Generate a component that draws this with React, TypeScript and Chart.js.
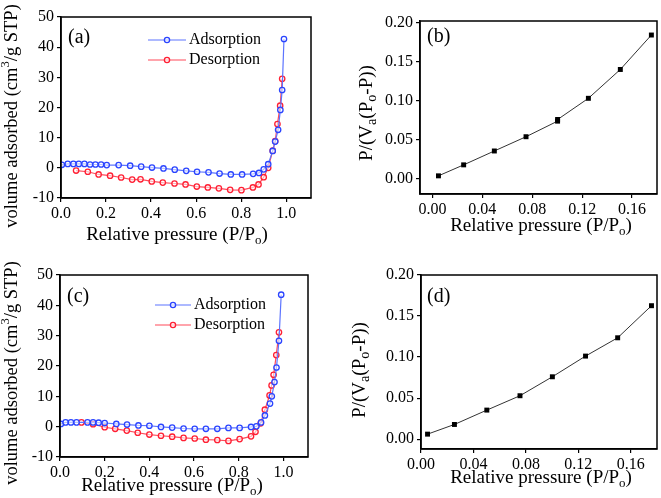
import React, { useEffect, useRef } from 'react';
import { Chart, registerables } from 'chart.js';
Chart.register(...registerables);

const FONT = '"Liberation Serif", "Times New Roman", serif';

// ---- Panel (a) isotherm ----
const aAdsX = [0.004, 0.03, 0.055, 0.079, 0.104, 0.129, 0.153, 0.178, 0.203, 0.256, 0.307, 0.356, 0.404, 0.455, 0.505, 0.556, 0.604, 0.655, 0.704, 0.754, 0.804, 0.853, 0.879, 0.9, 0.92, 0.94, 0.951, 0.964, 0.974, 0.982, 0.99];
const aAdsY = [1.0, 1.3, 1.3, 1.3, 1.3, 1.1, 1.1, 1.1, 0.9, 0.9, 0.7, 0.4, 0.1, -0.2, -0.6, -1.0, -1.3, -1.5, -1.9, -2.2, -2.2, -2.0, -1.7, -0.5, 1.2, 5.6, 8.7, 12.6, 19.2, 25.8, 42.7];
const aDesX = [0.067, 0.119, 0.167, 0.218, 0.267, 0.316, 0.353, 0.403, 0.452, 0.504, 0.553, 0.603, 0.652, 0.701, 0.751, 0.801, 0.852, 0.877, 0.9, 0.92, 0.94, 0.951, 0.961, 0.973, 0.982];
const aDesY = [-0.9, -1.3, -2.2, -2.6, -3.2, -3.9, -3.8, -4.5, -4.9, -5.2, -5.5, -6.2, -6.5, -6.8, -7.3, -7.4, -6.5, -5.5, -3.1, 0.0, 5.7, 8.9, 14.5, 20.6, 29.5];

// ---- Panel (c) isotherm ----
const cAdsX = [0.004, 0.025, 0.049, 0.074, 0.123, 0.148, 0.173, 0.2, 0.252, 0.3, 0.351, 0.4, 0.452, 0.502, 0.553, 0.603, 0.653, 0.704, 0.754, 0.804, 0.855, 0.879, 0.9, 0.917, 0.94, 0.948, 0.96, 0.969, 0.98, 0.99];
const cAdsY = [0.9, 1.4, 1.4, 1.4, 1.4, 1.4, 1.3, 1.2, 0.9, 0.7, 0.4, 0.3, -0.1, -0.3, -0.6, -0.7, -0.7, -0.7, -0.4, -0.4, -0.1, 0.1, 1.4, 3.7, 7.6, 10.0, 14.7, 19.5, 28.3, 43.5];
const cDesX = [0.096, 0.148, 0.2, 0.247, 0.299, 0.348, 0.4, 0.452, 0.502, 0.553, 0.603, 0.653, 0.704, 0.754, 0.804, 0.855, 0.875, 0.898, 0.917, 0.938, 0.947, 0.956, 0.968, 0.98];
const cDesY = [1.4, 0.8, -0.2, -0.7, -1.3, -2.0, -2.6, -3.0, -3.3, -3.7, -3.9, -4.3, -4.4, -4.7, -4.1, -3.2, -1.7, 1.1, 5.6, 10.3, 13.6, 17.1, 23.6, 31.1];

// ---- Panel (b) BET ----
const bX = [0.0048, 0.025, 0.0496, 0.075, 0.1003, 0.1003, 0.125, 0.1506, 0.1755];
const bY = [0.0033, 0.0174, 0.0352, 0.0535, 0.0735, 0.0756, 0.1028, 0.1398, 0.184];

// ---- Panel (d) BET ----
const dX = [0.005, 0.0255, 0.0502, 0.0755, 0.1002, 0.1255, 0.15, 0.1758];
const dY = [0.0061, 0.0179, 0.0354, 0.0529, 0.076, 0.1012, 0.1235, 0.1626];

// ---- Tick labels ----
const isoXTicks = [0, 0.2, 0.4, 0.6, 0.8, 1.0];
const isoYTicks = [-10, 0, 10, 20, 30, 40, 50];
const betXTicks = [0, 0.04, 0.08, 0.12, 0.16];
const betYTicks = [0, 0.05, 0.1, 0.15, 0.2];

const seriesNames = ['Adsorption', 'Desorption'];
const BLUE_LINE = '#5c74ff';
const BLUE_PT = '#2a44ff';
const RED_LINE = '#ff4a5a';
const RED_PT = '#ff1f33';

type Seg = { t: string; s?: 'sub' | 'sup' };

const isoXTitle: Seg[] = [{ t: 'Relative pressure (P/P' }, { t: 'o', s: 'sub' }, { t: ')' }];
const isoYTitle: Seg[] = [{ t: 'volume adsorbed (cm' }, { t: '3', s: 'sup' }, { t: '/g STP)' }];
const betYTitle: Seg[] = [{ t: 'P/(V' }, { t: 'a', s: 'sub' }, { t: '(P' }, { t: 'o', s: 'sub' }, { t: '-P))' }];

function zip(xs: number[], ys: number[]) {
  return xs.map((x, i) => ({ x, y: ys[i] }));
}

function drawRich(ctx: CanvasRenderingContext2D, segs: Seg[], cx: number, cy: number, size: number, rot: boolean, subScale = 0.68) {
  ctx.save();
  ctx.translate(cx, cy);
  if (rot) ctx.rotate(-Math.PI / 2);
  const small = size * subScale;
  let total = 0;
  const widths = segs.map((s) => {
    ctx.font = `${s.s ? small : size}px ${FONT}`;
    const w = ctx.measureText(s.t).width;
    total += w;
    return w;
  });
  let x = -total / 2;
  ctx.textBaseline = 'middle';
  ctx.textAlign = 'left';
  ctx.fillStyle = '#000';
  segs.forEach((s, i) => {
    ctx.font = `${s.s ? small : size}px ${FONT}`;
    const dy = s.s === 'sub' ? size * 0.3 : s.s === 'sup' ? -size * 0.32 : 0;
    ctx.fillText(s.t, x, dy);
    x += widths[i];
  });
  ctx.restore();
}

const decor = {
  id: 'decor',
  afterDraw(chart: any, _args: any, opts: any) {
    const ctx: CanvasRenderingContext2D = chart.ctx;
    const a = chart.chartArea;
    ctx.save();
    ctx.strokeStyle = '#000';
    ctx.lineWidth = 1.5;
    ctx.strokeRect(a.left, a.top, a.right - a.left, a.bottom - a.top);
    ctx.fillStyle = '#000';
    ctx.font = `20px ${FONT}`;
    ctx.textBaseline = 'middle';
    ctx.textAlign = 'left';
    ctx.fillText(opts.label, opts.labelX, opts.labelY);
    drawRich(ctx, opts.xTitle, opts.xTitleX, opts.xTitleY, opts.xTitleSize, false);
    drawRich(ctx, opts.yTitle, opts.yTitleX, opts.yTitleY, opts.yTitleSize, true, opts.yTitleSub || 0.68);
    if (opts.legend) {
      opts.legend.forEach((it: any) => {
        ctx.strokeStyle = it.line;
        ctx.lineWidth = 1.2;
        ctx.beginPath();
        ctx.moveTo(it.x1, it.y);
        ctx.lineTo(it.x2, it.y);
        ctx.stroke();
        ctx.beginPath();
        ctx.arc((it.x1 + it.x2) / 2, it.y, 2.6, 0, Math.PI * 2);
        ctx.fillStyle = 'rgba(255,255,255,0.6)';
        ctx.fill();
        ctx.strokeStyle = it.pt;
        ctx.lineWidth = 1.3;
        ctx.stroke();
        ctx.fillStyle = '#000';
        ctx.font = `16px ${FONT}`;
        ctx.textBaseline = 'middle';
        ctx.fillText(it.text, it.tx, it.y);
      });
    }
    ctx.restore();
  },
};

function axis(min: number, max: number, ticks: number[], dec: number, size: number, horizontal: boolean) {
  return {
    type: 'linear',
    min,
    max,
    afterBuildTicks: (scale: any) => {
      scale.ticks = ticks.map((v) => ({ value: v }));
    },
    afterFit: (scale: any) => {
      if (horizontal) scale.height = size;
      else scale.width = size;
    },
    grid: { display: true, drawOnChartArea: false, drawTicks: true, tickLength: 4, color: '#000', lineWidth: 1.2 },
    border: { display: true, color: '#000', width: 1.5 },
    ticks: {
      autoSkip: false,
      maxRotation: 0,
      padding: horizontal ? 2 : 3,
      color: '#000',
      font: { family: FONT, size: 16 },
      callback: (v: any) => Number(v).toFixed(dec),
    },
    title: { display: false },
  };
}

function isoDatasets(ax: number[], ay: number[], dx: number[], dy: number[]) {
  return [
    {
      label: seriesNames[0],
      data: zip(ax, ay),
      showLine: true,
      borderColor: BLUE_LINE,
      borderWidth: 1.2,
      pointBorderColor: BLUE_PT,
      pointBackgroundColor: 'rgba(255,255,255,0.55)',
      pointRadius: 2.7,
      pointBorderWidth: 1.3,
    },
    {
      label: seriesNames[1],
      data: zip(dx, dy),
      showLine: true,
      borderColor: RED_LINE,
      borderWidth: 1.2,
      pointBorderColor: RED_PT,
      pointBackgroundColor: 'rgba(255,255,255,0.55)',
      pointRadius: 2.7,
      pointBorderWidth: 1.3,
    },
  ];
}

function betDataset(xs: number[], ys: number[]) {
  return [
    {
      label: 'BET',
      data: zip(xs, ys),
      showLine: true,
      borderColor: '#333',
      borderWidth: 1,
      pointStyle: 'rect',
      pointBorderColor: '#000',
      pointBackgroundColor: '#000',
      pointRadius: 3.5,
      pointBorderWidth: 0,
    },
  ];
}

type PanelSpec = {
  left: number; top: number; w: number; h: number;
  pad: { left: number; top: number; right: number; bottom: number };
  datasets: any[];
  x: any; y: any;
  decor: any;
};

function makeConfig(p: PanelSpec) {
  return {
    type: 'scatter',
    data: { datasets: p.datasets },
    options: {
      responsive: false,
      animation: false,
      devicePixelRatio: 1,
      layout: { padding: p.pad },
      scales: { x: p.x, y: p.y },
      plugins: { legend: { display: false }, tooltip: { enabled: false }, decor: p.decor },
    },
    plugins: [decor],
  };
}

const panels: PanelSpec[] = [
  {
    left: 0, top: 0, w: 330, h: 249,
    pad: { left: 0, top: 17, right: 19, bottom: 0 },
    datasets: isoDatasets(aAdsX, aAdsY, aDesX, aDesY),
    x: axis(0, 1.11, isoXTicks, 1, 51, true),
    y: axis(-10, 50, isoYTicks, 0, 61, false),
    decor: {
      label: '(a)', labelX: 68, labelY: 38,
      xTitle: isoXTitle, xTitleX: 177, xTitleY: 235, xTitleSize: 19,
      yTitle: isoYTitle, yTitleX: 12, yTitleY: 116, yTitleSize: 18.5,
      legend: [
        { text: seriesNames[0], x1: 148, x2: 186, y: 40, tx: 189, line: BLUE_LINE, pt: BLUE_PT },
        { text: seriesNames[1], x1: 148, x2: 186, y: 60, tx: 189, line: RED_LINE, pt: RED_PT },
      ],
    },
  },
  {
    left: 330, top: 0, w: 331, h: 249,
    pad: { left: 0, top: 21, right: 4, bottom: 0 },
    datasets: betDataset(bX, bY),
    x: axis(-0.01, 0.18, betXTicks, 2, 55, true),
    y: axis(-0.02, 0.202, betYTicks, 2, 90, false),
    decor: {
      label: '(b)', labelX: 97, labelY: 37,
      xTitle: isoXTitle, xTitleX: 211, xTitleY: 226, xTitleSize: 19,
      yTitle: betYTitle, yTitleX: 37, yTitleY: 113, yTitleSize: 19, yTitleSub: 0.75,
    },
  },
  {
    left: 0, top: 250, w: 330, h: 248,
    pad: { left: 0, top: 25, right: 22, bottom: 0 },
    datasets: isoDatasets(cAdsX, cAdsY, cDesX, cDesY),
    x: axis(0, 1.11, isoXTicks, 1, 41, true),
    y: axis(-10, 50, isoYTicks, 0, 60, false),
    decor: {
      label: '(c)', labelX: 67, labelY: 47,
      xTitle: isoXTitle, xTitleX: 172, xTitleY: 236, xTitleSize: 19,
      yTitle: isoYTitle, yTitleX: 12, yTitleY: 123, yTitleSize: 18.5,
      legend: [
        { text: seriesNames[0], x1: 155, x2: 191, y: 55, tx: 194, line: BLUE_LINE, pt: BLUE_PT },
        { text: seriesNames[1], x1: 155, x2: 191, y: 75, tx: 194, line: RED_LINE, pt: RED_PT },
      ],
    },
  },
  {
    left: 330, top: 250, w: 331, h: 248,
    pad: { left: 0, top: 25, right: 3, bottom: 0 },
    datasets: betDataset(dX, dY),
    x: axis(0, 0.18, betXTicks, 2, 49, true),
    y: axis(-0.012, 0.2, betYTicks, 2, 91, false),
    decor: {
      label: '(d)', labelX: 97, labelY: 47,
      xTitle: isoXTitle, xTitleX: 211, xTitleY: 228, xTitleSize: 19,
      yTitle: betYTitle, yTitleX: 30, yTitleY: 120, yTitleSize: 19, yTitleSub: 0.75,
    },
  },
];

function Panel({ spec }: { spec: PanelSpec }) {
  const ref = useRef<HTMLCanvasElement>(null);
  useEffect(() => {
    if (!ref.current) return;
    const chart = new Chart(ref.current, makeConfig(spec) as any);
    return () => chart.destroy();
  }, [spec]);
  return (
    <canvas
      ref={ref}
      width={spec.w}
      height={spec.h}
      style={{ position: 'absolute', left: spec.left, top: spec.top, width: spec.w, height: spec.h }}
    />
  );
}

export default function App() {
  return (
    <div style={{ position: 'fixed', left: 0, top: 0, width: 661, height: 498, background: '#fff', overflow: 'hidden' }}>
      {panels.map((p, i) => (
        <Panel key={i} spec={p} />
      ))}
    </div>
  );
}
